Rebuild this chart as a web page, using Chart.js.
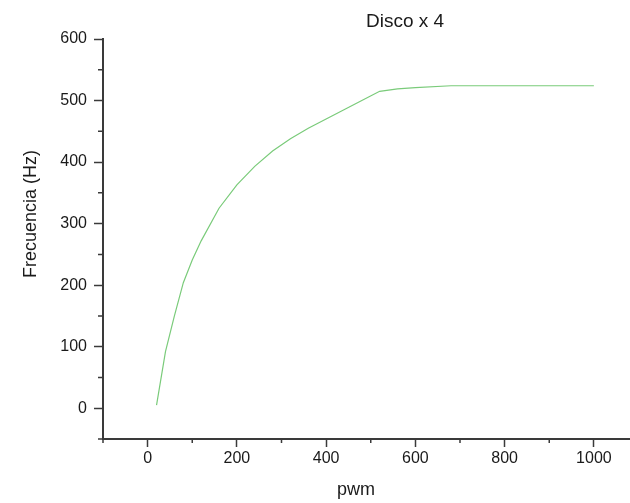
<!DOCTYPE html>
<html>
<head>
<meta charset="utf-8">
<script src="https://cdn.jsdelivr.net/npm/chart.js"></script>
<style>
  html, body { margin: 0; padding: 0; background: #fff; overflow: hidden; }
  #grafico { display: block; }
</style>
</head>
<body>
<canvas id="grafico" width="640" height="503"></canvas>
<script>
"use strict";
const pwm = [20, 40, 60, 80, 100, 120, 160, 200, 240, 280, 320, 360, 400, 440, 480, 520, 560, 600, 680, 1000];
const frecuencia = [5, 92, 150, 204, 241, 272, 325, 363, 393, 418, 438, 455, 470, 485, 500, 515, 519, 521, 524, 524];

const xTicks = [0, 200, 400, 600, 800, 1000];
const xMinor = [-100, 100, 300, 500, 700, 900];
const yTicks = [0, 100, 200, 300, 400, 500, 600];
const yMinor = [-50, 50, 150, 250, 350, 450, 550];

const tituloGrafico = 'Disco x 4';
const tituloX = 'pwm';
const tituloY = 'Frecuencia (Hz)';

const colorEje = '#3a3a3a';
const fuente = "'Liberation Sans', Arial, sans-serif";

// Marcas menores y títulos, estilo Origin
const pluginOrigin = {
  id: 'origin',
  afterDraw(chart) {
    const ctx = chart.ctx;
    const area = chart.chartArea;
    const sx = chart.scales.x, sy = chart.scales.y;
    ctx.save();
    ctx.strokeStyle = colorEje;
    ctx.lineWidth = 1.5;
    ctx.beginPath();
    xMinor.forEach(v => {
      const px = sx.getPixelForValue(v);
      ctx.moveTo(px, area.bottom);
      ctx.lineTo(px, area.bottom + 4);
    });
    yMinor.forEach(v => {
      const py = sy.getPixelForValue(v);
      ctx.moveTo(area.left - 5, py);
      ctx.lineTo(area.left, py);
    });
    ctx.stroke();

    ctx.fillStyle = '#1a1a1a';
    ctx.textAlign = 'center';
    ctx.textBaseline = 'alphabetic';
    ctx.font = '19px ' + fuente;
    ctx.fillText(tituloGrafico, 405, 27);
    ctx.font = '18px ' + fuente;
    ctx.fillText(tituloX, 356, 495);
    ctx.translate(36, 214);
    ctx.rotate(-Math.PI / 2);
    ctx.fillText(tituloY, 0, 0);
    ctx.restore();
  }
};

const ctx = document.getElementById('grafico').getContext('2d');
new Chart(ctx, {
  type: 'line',
  data: {
    datasets: [{
      label: tituloGrafico,
      data: pwm.map((p, i) => ({ x: p, y: frecuencia[i] })),
      borderColor: '#7acb7a',
      borderWidth: 1.2,
      pointRadius: 0,
      tension: 0,
      fill: false
    }]
  },
  options: {
    responsive: false,
    animation: false,
    devicePixelRatio: 1,
    layout: { padding: { top: 39, right: 1.5, left: 0, bottom: 0 } },
    plugins: {
      legend: { display: false },
      tooltip: { enabled: false }
    },
    scales: {
      x: {
        type: 'linear',
        min: -100,
        max: 1100,
        afterBuildTicks: s => { s.ticks = xTicks.map(v => ({ value: v })); },
        afterFit: s => { s.height = 64; },
        border: { display: true, color: colorEje, width: 2 },
        grid: { drawOnChartArea: false, drawTicks: true, tickLength: 8, tickColor: colorEje, tickWidth: 1.5 },
        ticks: { color: '#1a1a1a', padding: 2, font: { family: fuente, size: 16 }, maxRotation: 0,
                 callback: v => String(v) }
      },
      y: {
        type: 'linear',
        min: -50,
        max: 600,
        afterBuildTicks: s => { s.ticks = yTicks.map(v => ({ value: v })); },
        afterFit: s => { s.width = 103; },
        border: { display: true, color: colorEje, width: 2 },
        grid: { drawOnChartArea: false, drawTicks: true, tickLength: 9, tickColor: colorEje, tickWidth: 1.5 },
        ticks: { color: '#1a1a1a', padding: 7, font: { family: fuente, size: 16 },
                 callback: v => String(v) }
      }
    }
  },
  plugins: [pluginOrigin]
});
</script>
</body>
</html>
